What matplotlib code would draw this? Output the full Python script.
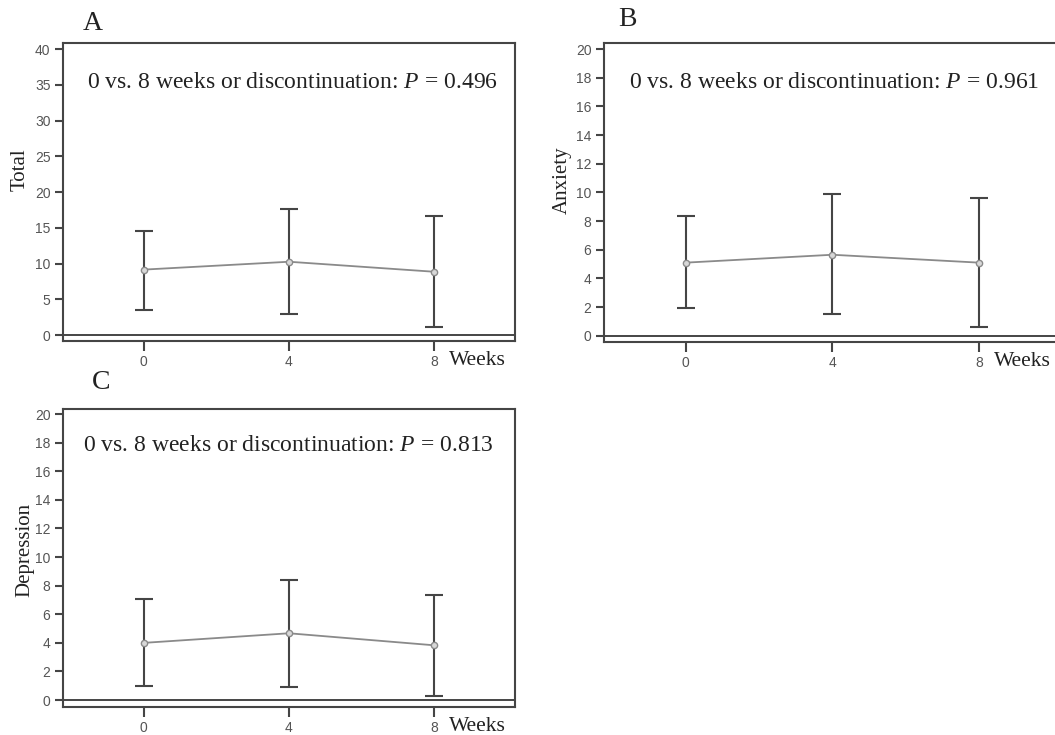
import matplotlib
matplotlib.use("Agg")
import matplotlib.pyplot as plt

plt.rcParams["mathtext.fontset"] = "custom"
plt.rcParams["mathtext.rm"] = "Liberation Serif"
plt.rcParams["mathtext.it"] = "Liberation Serif:italic"

WEEKS = [0, 4, 8]

TOTAL_MEAN = [9.15, 10.25, 8.85]
TOTAL_UPPER = [14.5, 17.6, 16.6]
TOTAL_LOWER = [3.55, 3.0, 1.15]

ANXIETY_MEAN = [5.1, 5.65, 5.1]
ANXIETY_UPPER = [8.33, 9.88, 9.6]
ANXIETY_LOWER = [1.93, 1.5, 0.6]

DEPRESSION_MEAN = [4.0, 4.67, 3.83]
DEPRESSION_UPPER = [7.05, 8.4, 7.35]
DEPRESSION_LOWER = [0.98, 0.93, 0.26]

P_VALUES = ["0.496", "0.961", "0.813"]
YTICKS = {"A": list(range(0, 41, 5)), "B": list(range(0, 21, 2)),
          "C": list(range(0, 21, 2))}

SERIF = "Liberation Serif"
SANS = "Liberation Sans"
DARK = "#454545"


def panel(fig, rect, ylim, yticks, mean, upper, lower, pval, text_xy):
    ax = fig.add_axes(rect)
    lo = [m - l for m, l in zip(mean, lower)]
    hi = [u - m for m, u in zip(mean, upper)]
    ax.errorbar(WEEKS, mean, yerr=[lo, hi], fmt="none", ecolor=DARK,
                elinewidth=1.5, capsize=6.5, capthick=1.5, zorder=2)
    ax.plot(WEEKS, mean, color="#8a8a8a", linewidth=1.3, marker="o",
            markersize=4.5, markerfacecolor="#d8d8d8",
            markeredgecolor="#8a8a8a", zorder=3)
    ax.axhline(0, color=DARK, linewidth=1.4, zorder=1)
    ax.set_xlim(-2.23, 10.23)
    ax.set_ylim(*ylim)
    ax.set_xticks(WEEKS)
    ax.set_yticks(yticks)
    for s in ax.spines.values():
        s.set_color(DARK)
        s.set_linewidth(1.5)
    ax.tick_params(axis="x", length=7, width=1.5, color=DARK, pad=3,
                   labelsize=10, labelcolor="#555555")
    ax.tick_params(axis="y", length=6, width=1.5, color=DARK, pad=3,
                   labelsize=10, labelcolor="#555555")
    for lab in ax.get_xticklabels() + ax.get_yticklabels():
        lab.set_fontfamily(SANS)
    ax.text(*text_xy, f"0 vs. 8 weeks or discontinuation: $P$ = {pval}",
            transform=ax.transAxes, fontsize=17, family=SERIF,
            va="center", ha="left", color="#222222")
    ax.text(8.42, -0.066, "Weeks", transform=ax.get_xaxis_transform(),
            fontsize=15.5, family=SERIF, va="center", ha="left",
            color="#222222")
    return ax


fig = plt.figure(figsize=(10.55, 7.35), dpi=100)

panel(fig, [0.0597, 0.536, 0.4284, 0.4055], (-0.84, 40.84), YTICKS["A"],
      TOTAL_MEAN, TOTAL_UPPER, TOTAL_LOWER, P_VALUES[0], (0.053, 0.869))
panel(fig, [0.5725, 0.535, 0.433, 0.4065], (-0.42, 20.42), YTICKS["B"],
      ANXIETY_MEAN, ANXIETY_UPPER, ANXIETY_LOWER, P_VALUES[1], (0.055, 0.869))
panel(fig, [0.0597, 0.038, 0.4284, 0.4055], (-0.49, 20.35), YTICKS["C"],
      DEPRESSION_MEAN, DEPRESSION_UPPER, DEPRESSION_LOWER, P_VALUES[2],
      (0.044, 0.879))

# panel letters and y labels
for x, y, s in [(93, 23, "A"), (627, 20, "B"), (101, 383, "C")]:
    fig.text(x / 1055, 1 - y / 735, s, fontsize=20, family=SERIF,
             ha="center", va="center", color="#222222")
for x, y, s in [(20, 170, "Total"), (562, 180, "Anxiety"),
                (25, 550, "Depression")]:
    fig.text(x / 1055, 1 - y / 735, s, fontsize=15, family=SERIF,
             rotation=90, ha="center", va="center", color="#222222")

fig.savefig("out.png", dpi=100, facecolor="white")
